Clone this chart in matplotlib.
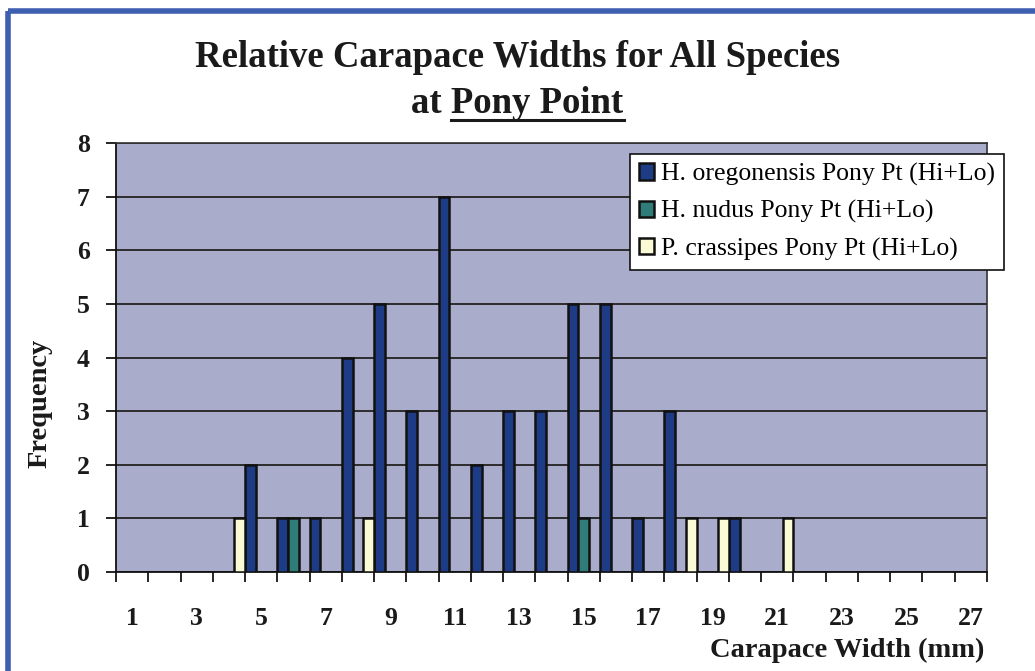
import matplotlib
matplotlib.use("Agg")
import matplotlib.pyplot as plt
import numpy as np
from matplotlib.lines import Line2D

plt.rcParams['font.family'] = ['Liberation Serif', 'DejaVu Serif']

# Carapace width classes (mm) and counts per species
widths = np.arange(1, 28)
oregonensis = [0, 0, 0, 0, 2, 1, 1, 4, 5, 3, 7, 2, 3, 3, 5, 5, 1, 3, 0, 1, 0, 0, 0, 0, 0, 0, 0]
nudus = [0, 0, 0, 0, 0, 1, 0, 0, 0, 0, 0, 0, 0, 0, 1, 0, 0, 0, 0, 0, 0, 0, 0, 0, 0, 0, 0]
crassipes = [0, 0, 0, 1, 0, 0, 0, 1, 0, 0, 0, 0, 0, 0, 0, 0, 0, 1, 1, 0, 1, 0, 0, 0, 0, 0, 0]
series_names = ['H. oregonensis Pony Pt (Hi+Lo)', 'H. nudus Pony Pt (Hi+Lo)',
                'P. crassipes Pony Pt (Hi+Lo)']
colors = ['#1d3c85', '#2f7c78', '#fafad4']

fig = plt.figure(figsize=(10.35, 6.71), dpi=100)
fig.patch.set_facecolor('white')
ax = fig.add_axes([0.1121, 0.1475, 0.8415, 0.6394])
ax.set_facecolor('#a9accb')

# clustered columns, no gap between groups
w = 1 / 3
for i, (vals, name, col) in enumerate(zip([oregonensis, nudus, crassipes], series_names, colors)):
    ax.bar(widths + (i - 1) * w, vals, width=w, color=col, edgecolor='#111111',
           linewidth=1.8, label=name, zorder=3)

ax.set_xlim(0.5, 27.5)
ax.set_ylim(0, 8)
ax.set_yticks(range(0, 9))
ax.yaxis.grid(True, color='#222222', linewidth=1.3, zorder=1)
ax.set_axisbelow(True)

ax.set_xticks(np.arange(0.5, 28, 1), minor=True)
ax.set_xticks(widths[::2])
ax.set_xticklabels([str(v) for v in widths[::2]])
ax.tick_params(axis='x', which='major', length=0, pad=25, labelsize=18.5)
ax.tick_params(axis='x', which='minor', length=7, width=1.2, direction='out')
ax.tick_params(axis='y', length=7, width=1.2, pad=12, labelsize=18.5)
for lab in ax.get_xticklabels() + ax.get_yticklabels():
    lab.set_fontweight('bold')
    lab.set_color('#1a1a1a')

for side in ['left', 'bottom']:
    ax.spines[side].set_color('#111111')
    ax.spines[side].set_linewidth(1.3)
for side in ['top', 'right']:
    ax.spines[side].set_color('#333333')
    ax.spines[side].set_linewidth(1.2)

fig.text(0.039, 0.399, 'Frequency', rotation=90, ha='center', va='center',
         fontsize=20.5, fontweight='bold', color='#1a1a1a')
fig.text(0.951, 0.031, 'Carapace Width (mm)', ha='right', va='center',
         fontsize=20.5, fontweight='bold', color='#1a1a1a')

# title, second line with underlined site name
fig.text(0.5, 0.915, 'Relative Carapace Widths for All Species', ha='center',
         va='center', fontsize=26.5, fontweight='bold', color='#1a1a1a')
line2 = fig.text(0.5, 0.846, 'at Pony Point', ha='center', va='center',
                 fontsize=26.5, fontweight='bold', color='#1a1a1a')
probe = fig.text(0, 0, 'Pony Point', fontsize=26.5, fontweight='bold', alpha=0)

leg = ax.legend(loc='upper left', bbox_to_anchor=(0.6087, 0.7705),
                bbox_transform=fig.transFigure, fontsize=18.5, frameon=True,
                fancybox=False, edgecolor='#111111', framealpha=1,
                handlelength=0.6, handleheight=0.6, handletextpad=0.25,
                labelspacing=0.55, borderpad=0.35, borderaxespad=0)
leg.get_frame().set_linewidth(1.2)
leg.set_zorder(5)

fig.canvas.draw()
r = fig.canvas.get_renderer()
bb = line2.get_window_extent(r)
pw = probe.get_window_extent(r).width
W, H = fig.bbox.width, fig.bbox.height
uy = (bb.y0 + 1) / H
fig.add_artist(Line2D([(bb.x1 - pw) / W, bb.x1 / W], [uy, uy], color='#1a1a1a',
                      linewidth=2.2, transform=fig.transFigure))

# blue frame along the top and left edges
fig.add_artist(Line2D([0.008, 1.0], [0.984, 0.984], color='#3f5fb0', linewidth=4,
                      transform=fig.transFigure, solid_capstyle='butt'))
fig.add_artist(Line2D([0.008, 0.008], [0.0, 0.984], color='#3f5fb0', linewidth=4,
                      transform=fig.transFigure, solid_capstyle='butt'))

fig.savefig('out.png', dpi=100)
